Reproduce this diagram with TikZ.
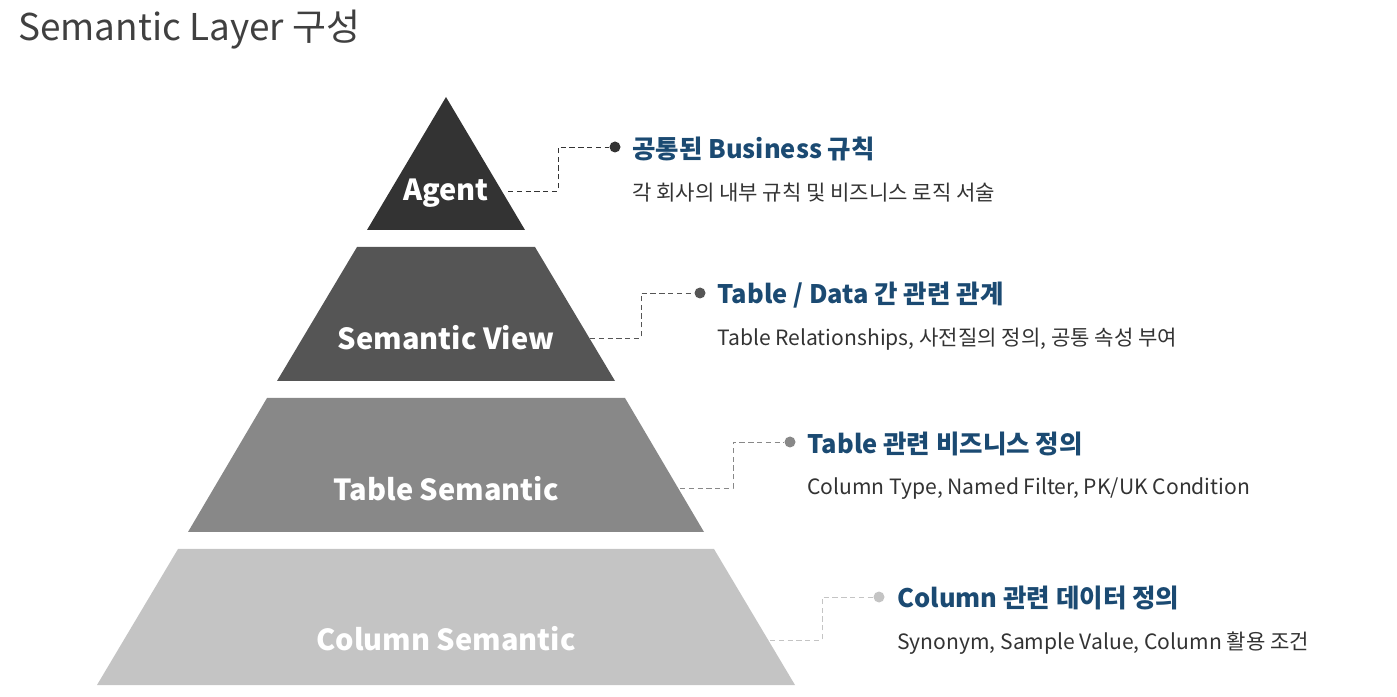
\documentclass[tikz,border=0pt]{standalone}
\usepackage{fontspec}
\setmainfont{Noto Sans CJK KR}
\usetikzlibrary{positioning}
\definecolor{layerA}{HTML}{333333}
\definecolor{layerB}{HTML}{555555}
\definecolor{layerC}{HTML}{888888}
\definecolor{layerD}{HTML}{C4C4C4}
\definecolor{headblue}{HTML}{1B4A72}
\definecolor{desc}{HTML}{333333}
\tikzset{
  layer/.style={font=\fontsize{16.5}{18}\selectfont\bfseries, text=white},
  head/.style={anchor=west, font=\fontsize{14.5}{16}\selectfont\bfseries, text=headblue, inner sep=0pt},
  note/.style={anchor=west, font=\fontsize{12}{14}\selectfont, text=desc, inner sep=0pt},
  link/.style={densely dashed, line width=0.5pt},
  dot/.style={circle, inner sep=0pt, minimum size=2.2mm}
}
\begin{document}
\begin{tikzpicture}[x=0.2mm,y=-0.2mm]
  \useasboundingbox (0,0) rectangle (1397,697);
  \node[anchor=west, inner sep=0pt, text=black!75, font=\fontsize{21}{24}\selectfont] (title) at (18,30) {Semantic Layer 구성};

  % pyramid layers
  \fill[layerA] (446,97) -- (525,230) -- (367,230) -- cycle;
  \fill[layerB] (357,247) -- (535,247) -- (615,381) -- (277,381) -- cycle;
  \fill[layerC] (267,398) -- (625,398) -- (704,532) -- (188,532) -- cycle;
  \fill[layerD] (178,549) -- (714,549) -- (795,685) -- (97,685) -- cycle;

  \node[layer] (agent) at (446,193) {Agent};
  \node[layer] (view) at (446,338) {Semantic View};
  \node[layer] (table) at (446,489) {Table Semantic};
  \node[layer] (column) at (446,639) {Column Semantic};

  % descriptions
  \node[dot, fill=layerA] (d1) at (615,147) {};
  \node[head] (h1) at (632,149) {공통된 Business 규칙};
  \node[note] (n1) at (632,193) {각 회사의 내부 규칙 및 비즈니스 로직 서술};

  \node[dot, fill=layerB] (d2) at (700,293) {};
  \node[head] (h2) at (717,295) {Table / Data 간 관련 관계};
  \node[note] (n2) at (717,339) {Table Relationships, 사전질의 정의, 공통 속성 부여};

  \node[dot, fill=layerC] (d3) at (790,442) {};
  \node[head] (h3) at (807,444) {Table 관련 비즈니스 정의};
  \node[note] (n3) at (807,489) {Column Type, Named Filter, PK/UK Condition};

  \node[dot, fill=layerD] (d4) at (879,597) {};
  \node[head] (h4) at (897,598) {Column 관련 데이터 정의};
  \node[note] (n4) at (897,643) {Synonym, Sample Value, Column 활용 조건};

  % connectors
  \coordinate (e1) at (508,191);
  \coordinate (e2) at (590,338);
  \coordinate (e3) at (680,488);
  \coordinate (e4) at (770,640);
  \draw[link, layerA] (e1) -- (558,191) |- (d1);
  \draw[link, layerB] (e2) -- (641,338) |- (d2);
  \draw[link, layerC] (e3) -- (733,488) |- (d3);
  \draw[link, layerD] (e4) -- (822,640) |- (d4);
\end{tikzpicture}
\end{document}
